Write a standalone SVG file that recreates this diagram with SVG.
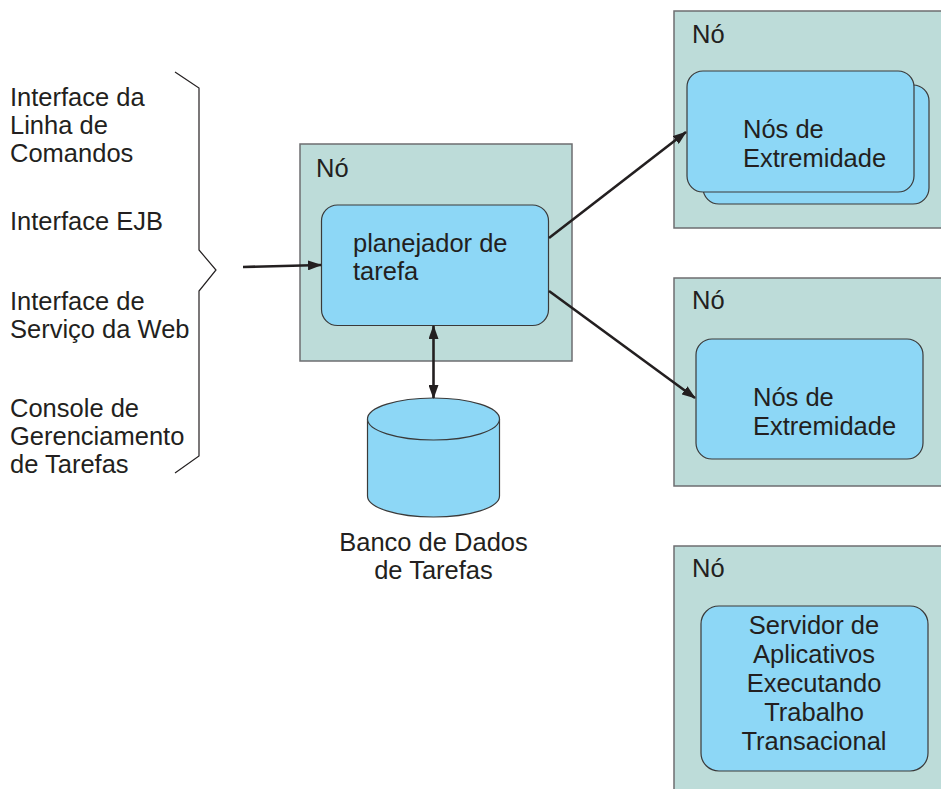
<svg xmlns="http://www.w3.org/2000/svg" width="941" height="789" viewBox="0 0 941 789">
<defs>
<style>
.t{font-family:"Liberation Sans",Arial,sans-serif;font-size:25.5px;fill:#231f20}
.c{text-anchor:middle}
.node{fill:#bddcd9;stroke:#6d6e70;stroke-width:1.5}
.comp{fill:#8dd7f6;stroke:#3a3a3a;stroke-width:1.2}
.conn{stroke:#231f20;stroke-width:2.6;fill:none}
</style>
<marker id="ah" viewBox="0 0 14 10" refX="13" refY="5" markerWidth="14" markerHeight="10" markerUnits="userSpaceOnUse" orient="auto-start-reverse">
<path d="M0,0 L14,5 L0,10 Z" fill="#231f20"/>
</marker>
</defs>
<rect width="941" height="789" fill="#ffffff"/>

<g id="interfaces">
<text class="t" x="10" y="106">Interface da</text>
<text class="t" x="10" y="134">Linha de</text>
<text class="t" x="10" y="162">Comandos</text>
<text class="t" x="10" y="230">Interface EJB</text>
<text class="t" x="10" y="310">Interface de</text>
<text class="t" x="10" y="338">Serviço da Web</text>
<text class="t" x="10" y="417">Console de</text>
<text class="t" x="10" y="445">Gerenciamento</text>
<text class="t" x="10" y="473">de Tarefas</text>
<path d="M175,72 L199,88 L199,250 L216,270 L199,291 L199,456 L175,473" fill="none" stroke="#231f20" stroke-width="1.2"/>
</g>

<g id="node-scheduler">
<rect class="node" x="300" y="144" width="272" height="217"/>
<text class="t" x="316" y="177">Nó</text>
<rect class="comp" x="321.5" y="205" width="227" height="120.5" rx="16"/>
<text class="t" x="353" y="252">planejador de</text>
<text class="t" x="353" y="280">tarefa</text>
</g>

<g id="database">
<path d="M367.5,419 L367.5,496 A66,21 0 0 0 499.5,496 L499.5,419" class="comp"/>
<ellipse class="comp" cx="433.5" cy="419" rx="66" ry="21"/>
<text class="t c" x="433.5" y="551">Banco de Dados</text>
<text class="t c" x="433.5" y="579">de Tarefas</text>
</g>

<g id="node-endpoints-1">
<rect class="node" x="674" y="11" width="290" height="217"/>
<text class="t" x="692" y="43">Nó</text>
<rect class="comp" x="703" y="85" width="226" height="119" rx="16"/>
<rect class="comp" x="687" y="71" width="227" height="121" rx="16"/>
<text class="t" x="743" y="138">Nós de</text>
<text class="t" x="743" y="167">Extremidade</text>
</g>

<g id="node-endpoints-2">
<rect class="node" x="674" y="278" width="290" height="208"/>
<text class="t" x="692" y="309">Nó</text>
<rect class="comp" x="696" y="339" width="227" height="120" rx="16"/>
<text class="t" x="753" y="406">Nós de</text>
<text class="t" x="753" y="435">Extremidade</text>
</g>

<g id="node-appserver">
<rect class="node" x="674" y="546" width="290" height="260"/>
<text class="t" x="692" y="577">Nó</text>
<rect class="comp" x="701" y="606" width="227" height="165" rx="18"/>
<text class="t c" x="814" y="634">Servidor de</text>
<text class="t c" x="814" y="663">Aplicativos</text>
<text class="t c" x="814" y="692">Executando</text>
<text class="t c" x="814" y="721">Trabalho</text>
<text class="t c" x="814" y="750">Transacional</text>
</g>

<g id="connectors">
<line class="conn" x1="243" y1="267" x2="321" y2="265" marker-end="url(#ah)"/>
<line class="conn" x1="433.5" y1="326" x2="433.5" y2="398" marker-start="url(#ah)" marker-end="url(#ah)"/>
<line class="conn" x1="549" y1="238" x2="686" y2="132" marker-end="url(#ah)"/>
<line class="conn" x1="549" y1="291" x2="695" y2="398" marker-end="url(#ah)"/>
</g>
</svg>
